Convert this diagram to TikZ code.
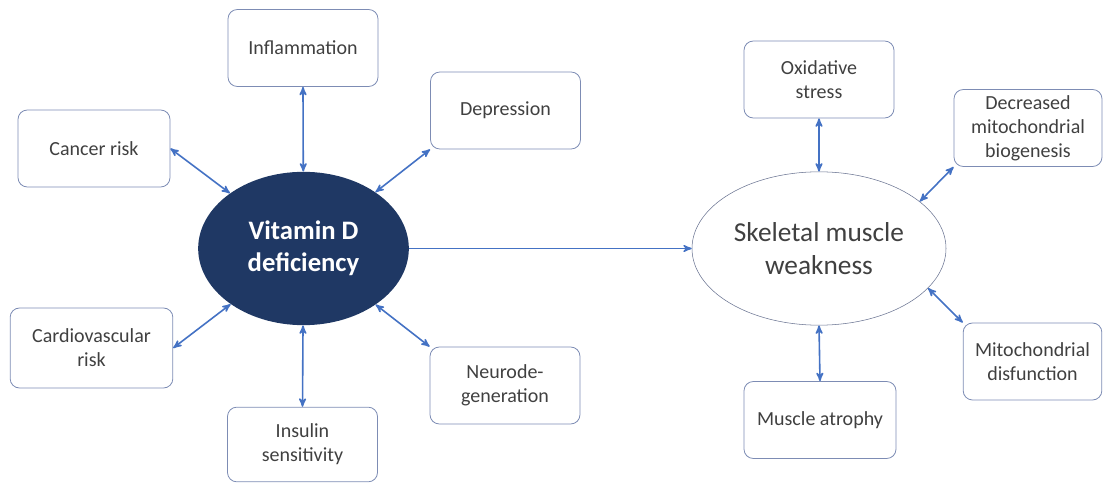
\documentclass[tikz,border=0pt]{standalone}
\usepackage{fontspec}
\setmainfont{Carlito}
\usetikzlibrary{arrows}
\usetikzlibrary{shapes.geometric}
\definecolor{navy}{RGB}{31,56,100}
\definecolor{arrowblue}{RGB}{68,114,196}
\definecolor{boxline}{RGB}{125,140,180}
\definecolor{hubline}{RGB}{105,115,145}
\definecolor{txtgray}{RGB}{64,64,64}

\begin{document}
\begin{tikzpicture}[x=.75pt, y=-.75pt,
  factor/.style={draw=boxline, semithick, rounded corners=7pt, minimum width=112.5pt, minimum height=57.75pt, align=center, text=txtgray, inner sep=2pt, font=\fontsize{15}{18}\selectfont},
  hub/.style={ellipse, inner sep=0pt, align=center},
  link/.style={arrowblue, line width=1.2pt, >=stealth'}]
\useasboundingbox (0,0) rectangle (1103,484);
\node[hub, fill=navy, text=white, minimum width=158pt, minimum height=115pt, font=\bfseries\fontsize{20}{24}\selectfont] (vd) at (303.5,248.5) {Vitamin D\\deficiency};
\node[hub, draw=hubline, text=txtgray, minimum width=190.5pt, minimum height=115pt, font=\fontsize{20.5}{24.5}\selectfont] (sm) at (819,248.5) {Skeletal muscle\\weakness};
\node[factor] (infl) at (303,48) {Inflammation};
\node[factor, minimum width=114pt] (cancer) at (94,148.5) {Cancer risk};
\node[factor] (depr) at (505.5,110.5) {Depression};
\node[factor, minimum width=122pt, minimum height=60pt] (cardio) at (91.5,348) {Cardiovascular\\risk};
\node[factor, minimum height=56pt] (insul) at (302.5,444.5) {Insulin\\sensitivity};
\node[factor] (neuro) at (505,385.5) {Neurode-\\generation};
\node[factor] (oxid) at (819,79.5) {Oxidative\\stress};
\node[factor, minimum width=111pt] (decr) at (1028,128) {Decreased\\mitochondrial\\biogenesis};
\node[factor, minimum width=104pt] (mito) at (1032.5,361.5) {Mitochondrial\\disfunction};
\node[factor, minimum width=114pt] (atroph) at (820,420) {Muscle atrophy};
\foreach \n/\a in {infl/south, cancer/east, depr/south west, cardio/east, neuro/north west, insul/north}
  \draw[link, <->] (\n.\a) -- (vd);
\foreach \n/\a/\b in {oxid/south/90, decr/south west/25, mito/north west/-20, atroph/north/-90}
  \draw[link, <->] (\n.\a) -- (sm.\b);
\draw[link, ->] (vd) -- (sm);
\end{tikzpicture}
\end{document}
